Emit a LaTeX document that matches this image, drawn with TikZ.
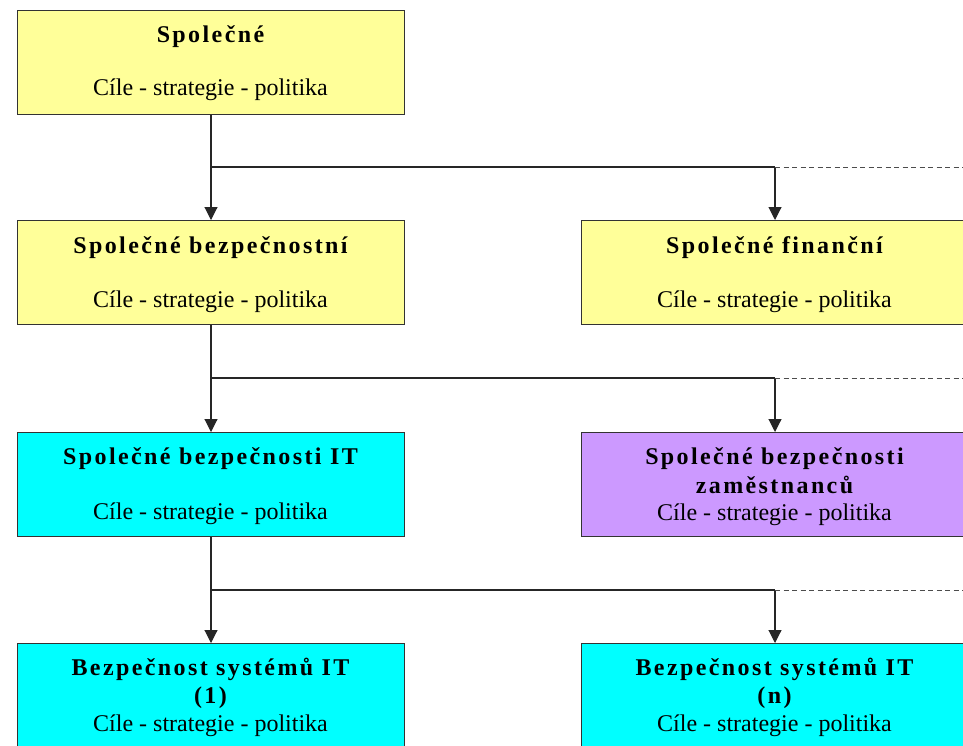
\documentclass[tikz,border=0pt]{standalone}
\usepackage{fontspec}
\setmainfont{Liberation Serif}
\usetikzlibrary{arrows.meta}
\definecolor{boxyellow}{HTML}{FFFF99}
\definecolor{boxcyan}{HTML}{00FFFF}
\definecolor{boxpurple}{HTML}{CC99FF}
\tikzset{
  box/.style={draw=black!80, line width=1pt, minimum width=387pt, minimum height=104pt, inner sep=0pt, anchor=north west},
  ttl/.style={font=\fontsize{24}{28}\selectfont\bfseries\addfontfeature{LetterSpace=10}, inner sep=0pt, anchor=base},
  sub/.style={font=\fontsize{24}{28}\selectfont, inner sep=0pt, anchor=base},
  conn/.style={draw=black!85, line width=1.1pt},
  arr/.style={conn, -{Triangle[length=13pt,width=13pt]}},
  dashconn/.style={draw=black!70, line width=0.9pt, dash pattern=on 5pt off 3.5pt},
}
\begin{document}
\begin{tikzpicture}[x=1pt,y=-1pt]
\useasboundingbox (0,0) rectangle (963,745);
\clip (0,0) rectangle (963,745);
% boxes
\node[box, fill=boxyellow] (b1) at (17,10) {};
\node[box, fill=boxyellow] (b2l) at (17,220) {};
\node[box, fill=boxyellow] (b2r) at (581,220) {};
\node[box, fill=boxcyan] (b3l) at (17,432) {};
\node[box, fill=boxpurple] (b3r) at (581,432) {};
\node[box, fill=boxcyan] (b4l) at (17,643) {};
\node[box, fill=boxcyan] (b4r) at (581,643) {};
% texts
\node[ttl] (t1) at (210.5,42) {Společné};
\node[sub] (s1) at (210.5,95) {Cíle - strategie - politika};
\node[ttl] (t2l) at (210.5,253) {Společné bezpečnostní};
\node[sub] (s2l) at (210.5,307) {Cíle - strategie - politika};
\node[ttl] (t2r) at (774.5,253) {Společné finanční};
\node[sub] (s2r) at (774.5,307) {Cíle - strategie - politika};
\node[ttl] (t3l) at (210.5,464) {Společné bezpečnosti IT};
\node[sub] (s3l) at (210.5,519) {Cíle - strategie - politika};
\node[ttl] (t3r) at (774.5,464) {Společné bezpečnosti};
\node[ttl] (t3r2) at (774.5,493) {zaměstnanců};
\node[sub] (s3r) at (774.5,520) {Cíle - strategie - politika};
\node[ttl] (t4l) at (210.5,675) {Bezpečnost systémů IT};
\node[ttl] (t4l2) at (210.5,703) {(1)};
\node[sub] (s4l) at (210.5,731) {Cíle - strategie - politika};
\node[ttl] (t4r) at (774.5,675) {Bezpečnost systémů IT};
\node[ttl] (t4r2) at (774.5,703) {(n)};
\node[sub] (s4r) at (774.5,731) {Cíle - strategie - politika};
% junctions
\coordinate (j1) at (210.5,167);
\coordinate (j1r) at (b2r.north |- j1);
\coordinate (j1e) at (963,167);
\coordinate (j2) at (210.5,378);
\coordinate (j2r) at (b3r.north |- j2);
\coordinate (j2e) at (963,378);
\coordinate (j3) at (210.5,590);
\coordinate (j3r) at (b4r.north |- j3);
\coordinate (j3e) at (963,590);
% connectors
\draw[arr] (b1.south) -- (b2l.north);
\draw[conn] (j1) -- (j1r);
\draw[arr] (j1r) -- (b2r.north);
\draw[dashconn] (j1r) -- (j1e);
\draw[arr] (b2l.south) -- (b3l.north);
\draw[conn] (j2) -- (j2r);
\draw[arr] (j2r) -- (b3r.north);
\draw[dashconn] (j2r) -- (j2e);
\draw[arr] (b3l.south) -- (b4l.north);
\draw[conn] (j3) -- (j3r);
\draw[arr] (j3r) -- (b4r.north);
\draw[dashconn] (j3r) -- (j3e);
\end{tikzpicture}
\end{document}
